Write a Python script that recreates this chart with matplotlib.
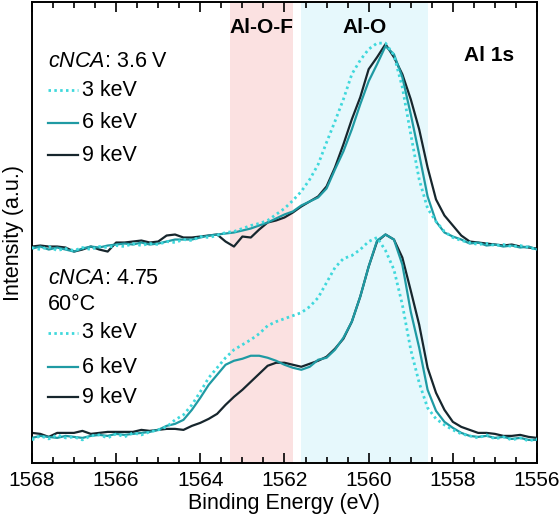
import numpy as np
import matplotlib
matplotlib.use('Agg')
import matplotlib.pyplot as plt
from matplotlib.ticker import MultipleLocator

plt.rcParams['font.family'] = ['Liberation Sans', 'DejaVu Sans']
plt.rcParams['mathtext.fontset'] = 'custom'
plt.rcParams['mathtext.rm'] = 'Liberation Sans'
plt.rcParams['mathtext.it'] = 'Liberation Sans:italic'

# binding energy grid (eV), 1568 -> 1556 in 0.2 eV steps
energy = np.round(np.arange(1568.0, 1555.99, -0.2), 1)

# cNCA 3.6 V (upper set, already offset)
top_3kev = [215, 213, 216, 212, 214, 212, 215, 213, 216, 215, 217, 216, 219, 217, 219, 218,
            221, 220, 223, 222, 226, 225, 227, 230, 231, 234, 237, 239, 242, 248, 254, 262,
            271, 283, 298, 320, 341, 363, 388, 402, 413, 419, 419, 407, 375, 328, 283, 254,
            241, 231, 225, 222, 220, 218, 219, 217, 218, 216, 217, 215, 213]
top_6kev = [214, 216, 213, 215, 213, 211, 214, 216, 215, 217, 218, 219, 218, 220, 218, 219,
            221, 223, 223, 223, 225, 227, 228, 229, 230, 232, 234, 237, 240, 244, 248, 251,
            257, 261, 265, 274, 293, 311, 333, 358, 381, 398, 416, 408, 385, 348, 308, 266,
            241, 230, 226, 223, 219, 220, 217, 218, 216, 217, 215, 216, 213]
top_9kev = [216, 217, 216, 216, 215, 211, 213, 216, 213, 211, 220, 220, 221, 222, 220, 221,
            227, 228, 225, 225, 226, 227, 228, 221, 216, 226, 225, 233, 240, 242, 245, 250,
            256, 261, 266, 276, 295, 318, 343, 365, 393, 405, 418, 405, 388, 363, 333, 295,
            263, 247, 237, 227, 221, 220, 219, 218, 217, 218, 216, 215, 214]

# cNCA 4.75 V 60 C (lower set)
bot_3kev = [23, 27, 24, 28, 25, 26, 23, 27, 28, 25, 29, 26, 30, 28, 31, 33,
            36, 43, 48, 58, 71, 85, 95, 105, 113, 118, 123, 129, 137, 141, 144, 147,
            150, 156, 165, 180, 195, 204, 207, 213, 221, 225, 212, 193, 158, 113, 80, 55,
            44, 38, 33, 29, 27, 25, 28, 24, 26, 23, 25, 22, 24]
bot_6kev = [25, 27, 26, 25, 27, 26, 25, 27, 28, 27, 29, 28, 29, 30, 31, 33,
            37, 39, 43, 53, 65, 78, 88, 98, 102, 104, 107, 107, 105, 102, 98, 95,
            93, 96, 103, 105, 113, 125, 141, 166, 196, 222, 228, 223, 198, 151, 115, 73,
            52, 41, 35, 30, 27, 26, 27, 25, 26, 24, 25, 23, 23]
bot_9kev = [30, 29, 26, 30, 30, 30, 32, 29, 30, 31, 31, 31, 31, 33, 32, 33,
            34, 34, 33, 37, 40, 44, 49, 58, 66, 73, 81, 89, 97, 100, 100, 98,
            96, 99, 102, 106, 114, 124, 141, 166, 196, 221, 228, 223, 205, 172, 138, 95,
            70, 53, 41, 36, 33, 30, 30, 29, 27, 27, 28, 26, 25]

regions = {'Al-O-F': (1563.3, 1561.8), 'Al-O': (1561.6, 1558.6)}
region_colors = ['#fbe1e1', '#e6f8fc']
labels = ['3 keV', '6 keV', '9 keV']

c3, c6, c9 = '#3fd8dc', '#1f9aa3', '#17262d'
dot = (0, (0.9, 1.2))
styles = [dict(color=c3, lw=2.0, ls=dot), dict(color=c6, lw=1.6), dict(color=c9, lw=1.6)]

fig = plt.figure(figsize=(5.6, 5.19), dpi=100)
ax = fig.add_axes([0.057, 0.108, 0.902, 0.888])

for (name, (e1, e2)), col in zip(regions.items(), region_colors):
    ax.axvspan(e1, e2, color=col, lw=0, zorder=0)
    ax.text((e1 + e2) / 2, 0.945, name, transform=ax.get_xaxis_transform(),
            ha='center', va='center', fontsize=15, fontweight='bold')
ax.text(0.905, 0.885, 'Al 1s', transform=ax.transAxes, ha='center', va='center',
        fontsize=15, fontweight='bold')

for ys in [(bot_3kev, bot_6kev, bot_9kev), (top_3kev, top_6kev, top_9kev)]:
    for y, st, z in zip(ys, styles, [4, 3, 2]):
        ax.plot(energy, y, zorder=z, **st)

ax.set_xlim(1568, 1556)
ax.set_ylim(0, 460)
ax.set_yticks([])
ax.xaxis.set_major_locator(MultipleLocator(2))
ax.xaxis.set_minor_locator(MultipleLocator(0.5))
ax.tick_params(axis='x', which='both', direction='in', top=True, width=1.2, labelsize=15, pad=6)
ax.tick_params(axis='x', which='major', length=7)
ax.tick_params(axis='x', which='minor', length=4)
for s in ax.spines.values():
    s.set_linewidth(1.4)
ax.set_xlabel('Binding Energy (eV)', fontsize=15.5, labelpad=2)
ax.set_ylabel('Intensity (a.u.)', fontsize=15.5, labelpad=6)


# hand-made keys, one group per spectrum set
def key_group(titles, y_title, y_rows):
    for t, yy in zip(titles, y_title):
        ax.text(0.032, yy, t, transform=ax.transAxes, fontsize=15.5, va='center')
    for st, lab, yy in zip(styles, labels, y_rows):
        ax.plot([0.032, 0.091], [yy, yy], transform=ax.transAxes, **st)
        ax.text(0.099, yy, lab, transform=ax.transAxes, fontsize=15.5, va='center')


key_group(['$\\mathit{cNCA}$: 3.6 V'], [0.870], [0.809, 0.738, 0.668])
key_group(['$\\mathit{cNCA}$: 4.75', '60°C'], [0.401, 0.343], [0.282, 0.208, 0.143])

fig.savefig('out.png', dpi=100)
